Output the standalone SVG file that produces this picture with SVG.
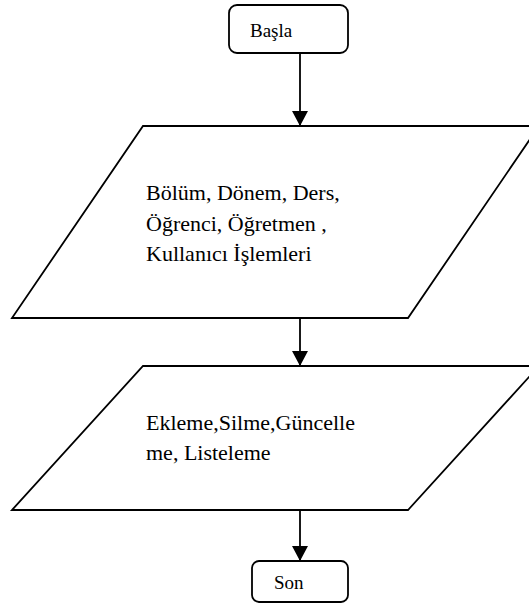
<svg xmlns="http://www.w3.org/2000/svg" width="529" height="607" viewBox="0 0 529 607">
  <style>
    .shape { fill: #ffffff; stroke: #000000; stroke-width: 1.8; }
    .edge { fill: none; stroke: #000000; stroke-width: 1.8; }
    text { font-family: "Liberation Serif", "Times New Roman", serif; fill: #000000; }
    .term { font-size: 19px; }
    .body { font-size: 22px; }
  </style>
  <defs>
    <marker id="arrow" viewBox="0 0 16 17" refX="16" refY="8.5" markerWidth="17" markerHeight="16" markerUnits="userSpaceOnUse" orient="auto">
      <path d="M0,0 L16,8.5 L0,17 Z" fill="#000000"/>
    </marker>
  </defs>

  <rect width="529" height="607" fill="#ffffff"/>

  <!-- vertical flow lines between the steps -->
  <g id="connectors">
    <line class="edge" x1="300" y1="53" x2="300" y2="126" marker-end="url(#arrow)"/>
    <line class="edge" x1="300" y1="318" x2="300" y2="366" marker-end="url(#arrow)"/>
    <line class="edge" x1="300" y1="510" x2="300" y2="561" marker-end="url(#arrow)"/>
  </g>

  <g id="start">
    <rect class="shape" x="229" y="5" width="119" height="48" rx="8" ry="8"/>
    <text class="term" x="250" y="37">Başla</text>
  </g>

  <!-- first input/output block, right corner runs past the page edge -->
  <g id="modules">
    <polygon class="shape" points="143,126 539,126 408,318 12,318"/>
    <text class="body">
      <tspan x="146" y="200">Bölüm, Dönem, Ders,</tspan>
      <tspan x="146" y="231">Öğrenci, Öğretmen ,</tspan>
      <tspan x="146" y="261">Kullanıcı İşlemleri</tspan>
    </text>
  </g>

  <g id="operations">
    <polygon class="shape" points="143,366 539,366 408,510 12,510"/>
    <text class="body">
      <tspan x="146" y="430">Ekleme,Silme,Güncelle</tspan>
      <tspan x="146" y="460">me, Listeleme</tspan>
    </text>
  </g>

  <g id="end">
    <rect class="shape" x="252" y="561" width="96" height="41" rx="7" ry="7"/>
    <text class="term" x="274" y="589">Son</text>
  </g>
</svg>
